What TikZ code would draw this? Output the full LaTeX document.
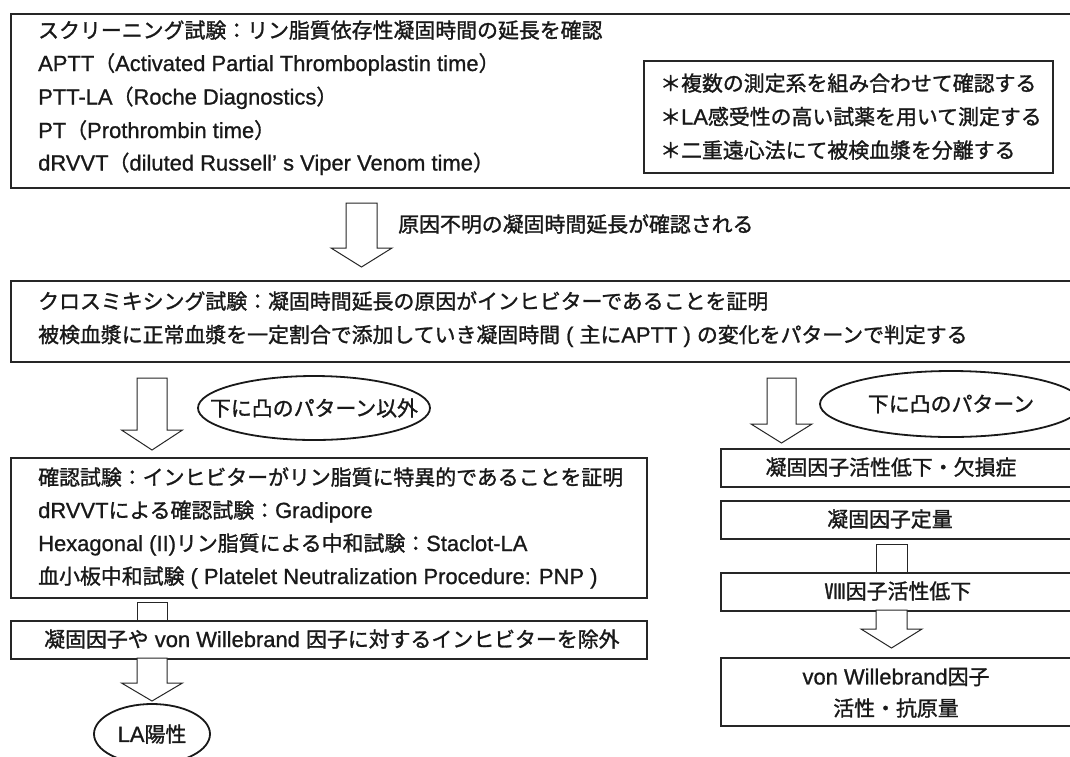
\documentclass[tikz,border=0pt]{standalone}
\usepackage{fontspec}
\setmainfont{Noto Sans CJK JP}[FakeBold=1.3]
\newfontfamily\latf{Liberation Sans}[Scale=1.05, FakeBold=0.9]
\newcommand\la[1]{{\latf #1}}
\usetikzlibrary{shapes.geometric}
\newcommand\fsz{\fontsize{20.9}{24}\selectfont}
\newcommand\myblockarrow[6]{%
  \draw[blk] ({#1-#2},#4) -- ({#1-#2},#5) -- ({#1-#3},#5) -- (#1,#6) -- ({#1+#3},#5) -- ({#1+#2},#5) -- ({#1+#2},#4) -- cycle;}
\tikzset{
  frame/.style={draw=black!85, line width=2.2pt, anchor=north west, inner sep=0pt},
  blk/.style={draw=black!85, line width=1pt, fill=white},
  txt/.style={anchor=base west, inner sep=0pt, font=\fsz, text=black!90},
  ctxt/.style={anchor=center, inner sep=0pt, font=\fsz, text=black!90},
  oval/.style={ellipse, draw=black!90, line width=1.8pt, inner sep=0pt},
}
\begin{document}
\begin{tikzpicture}[x=1pt,y=-1pt]
\useasboundingbox (0,0) rectangle (1070,756);
\clip (0,0) rectangle (1070,756);
\fill[white] (0,0) rectangle (1070,756);

% top screening box
\node[frame, minimum width=1065pt, minimum height=174pt] (screen) at (10,13) {};
\node[txt] (s1) at (38,38) {スクリーニング試験：リン脂質依存性凝固時間の延長を確認};
\node[txt] (s2) at (38,71) {\la{APTT}（\la{Activated Partial Thromboplastin time}）};
\node[txt] (s3) at (38,104.5) {\la{PTT-LA}（\la{Roche Diagnostics}）};
\node[txt] (s4) at (38,138) {\la{PT}（\la{Prothrombin time}）};
\node[txt] (s5) at (38,170.5) {\la{dRVVT}（\la{diluted Russell’ s Viper Venom time}）};

% note box
\node[frame, line width=1.8pt, minimum width=409pt, minimum height=112pt] (note) at (643,60) {};
\node[txt] (n1) at (660,91) {＊複数の測定系を組み合わせて確認する};
\node[txt] (n2) at (660,124.5) {＊\la{LA}感受性の高い試薬を用いて測定する};
\node[txt] (n3) at (660,158) {＊二重遠心法にて被検血漿を分離する};

% arrow A
\myblockarrow{361.5}{15.5}{30.5}{203}{248}{267}
\node[txt] (lblA) at (398,232) {原因不明の凝固時間延長が確認される};

% cross mixing box
\node[frame, minimum width=1065pt, minimum height=81pt] (cross) at (10,280) {};
\node[txt] (c1) at (38,309) {クロスミキシング試験：凝固時間延長の原因がインヒビターであることを証明};
\node[txt] (c2) at (38,342.5) {被検血漿に正常血漿を一定割合で添加していき凝固時間\la{ ( }主に\la{APTT ) }の変化をパターンで判定する};

% left branch
\myblockarrow{152}{15}{30.5}{378}{430}{450}
\node[oval, minimum width=232pt, minimum height=64pt] (e1) at (314,408) {};
\node[ctxt] (e1t) at (e1.center) {下に凸のパターン以外};

\node[frame, minimum width=636pt, minimum height=140pt] (confirm) at (10,457) {};
\node[txt] (f1) at (38,485) {確認試験：インヒビターがリン脂質に特異的であることを証明};
\node[txt] (f2) at (38,518) {\la{dRVVT}による確認試験：\la{Gradipore}};
\node[txt] (f3) at (38,551) {\la{Hexagonal (II)}リン脂質による中和試験：\la{Staclot-LA}};
\node[txt] (f4) at (38,584) {血小板中和試験\la{ ( Platelet Neutralization Procedure: PNP )}};

\draw[blk] (137,620) -- (137,602) -- (167,602) -- (167,620);

\node[frame, minimum width=636pt, minimum height=38pt] (excl) at (10,620) {};
\node[txt] (x1) at (44,647) {凝固因子や\la{ von Willebrand }因子に対するインヒビターを除外};

\myblockarrow{152}{15}{30.5}{658}{683}{701}
\node[oval, minimum width=116pt, minimum height=60pt] (la) at (152,734) {};
\node[ctxt] (lat) at (la.center) {\la{LA}陽性};

% right branch
\myblockarrow{781.5}{14.5}{30.5}{378}{424}{443}
\node[oval, minimum width=262pt, minimum height=66pt] (e2) at (951,404) {};
\node[ctxt] (e2t) at (e2.center) {下に凸のパターン};

\node[frame, minimum width=355pt, minimum height=38pt] (r1) at (720,448) {};
\node[ctxt] (r1t) at (891,467) {凝固因子活性低下・欠損症};
\node[frame, minimum width=355pt, minimum height=38pt] (r2) at (720,500) {};
\node[ctxt] (r2t) at (890,519) {凝固因子定量};
\draw[blk] (876,572) -- (876,544) -- (907,544) -- (907,572);
\node[frame, minimum width=355pt, minimum height=38pt] (r3) at (720,572) {};
\node[ctxt] (r3t) at (898,591) {Ⅷ因子活性低下};
\myblockarrow{891.5}{15.5}{30.5}{610}{629}{648}
\node[frame, minimum width=355pt, minimum height=68pt] (r4) at (720,657) {};
\node[ctxt] (r4a) at (896,677) {\la{von Willebrand}因子};
\node[ctxt] (r4b) at (896,708) {活性・抗原量};
\end{tikzpicture}
\end{document}
